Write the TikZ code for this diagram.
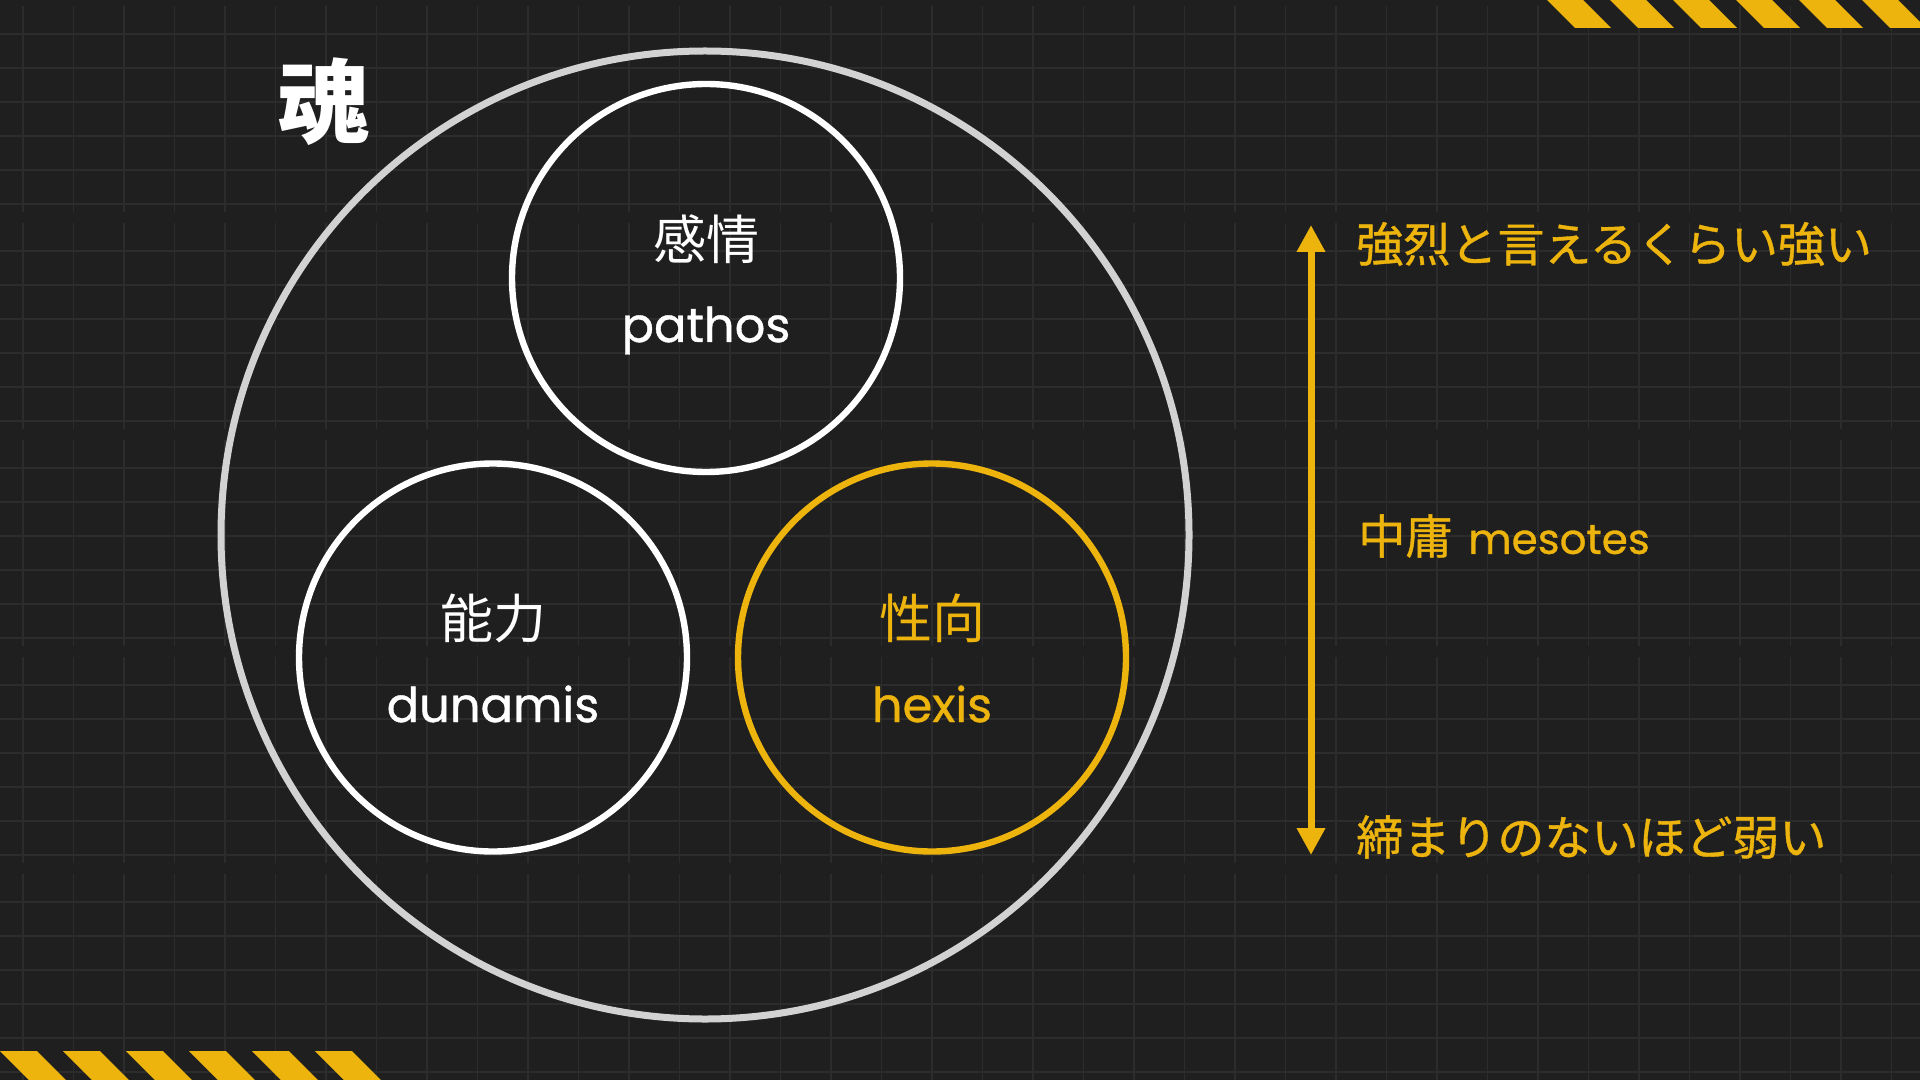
\documentclass[tikz,border=0pt]{standalone}
\usepackage{fontspec}
\setmainfont{Poppins}
\newfontfamily\lat{Poppins}[FakeBold=0.8]
\newfontfamily\jp{Noto Sans CJK JP}
\newfontfamily\jpm{Noto Sans CJK JP}[FakeBold=0.8]
\usetikzlibrary{arrows.meta}
\definecolor{bg}{HTML}{1F1F1F}
\definecolor{gridc}{HTML}{2C2C2C}
\definecolor{gold}{HTML}{EEB40E}
\definecolor{ringc}{HTML}{D2D2D2}
\tikzset{
  gridline/.style={draw=gridc, line width=0.8pt},
  stripe/.style={fill=gold},
  bigring/.style={circle, draw=ringc, line width=3.5pt, inner sep=0pt, minimum size=484pt},
  partring/.style={circle, draw=white, line width=3.2pt, inner sep=0pt, minimum size=194pt},
  jplabel/.style={inner sep=0pt, text=white, font=\jp\fontsize{26.5pt}{30pt}\selectfont},
  enlabel/.style={inner sep=0pt, anchor=base, text=white, font=\lat\fontsize{24pt}{28pt}\selectfont},
  rtext/.style={inner sep=0pt, anchor=west, text=gold, font=\jpm\fontsize{23.5pt}{28pt}\selectfont},
}
\begin{document}
\begin{tikzpicture}[x=0.5pt,y=-0.5pt]
\useasboundingbox (0,0) rectangle (1920,1080);
\clip (0,0) rectangle (1920,1080);
\fill[bg] (0,0) rectangle (1920,1080);
% background grid (tiled)
\foreach \r in {0,...,4}{
  \pgfmathsetmacro\yo{217*\r}
  \foreach \k in {1,...,6}{
    \draw[gridline] (0,{\yo+34*\k}) -- (1920,{\yo+34*\k});
  }
  \foreach \j in {0,...,37}{
    \draw[gridline] ({23+50.5*\j},{\yo+6}) -- ({23+50.5*\j},{\yo+212});
  }
}
% hazard stripes
\foreach \k in {0,...,5}{
  \fill[stripe] ({1547+63*\k},0) -- ({1583+63*\k},0) -- ({1611+63*\k},28) -- ({1575+63*\k},28) -- cycle;
  \fill[stripe] ({63*\k},1051) -- ({37+63*\k},1051) -- ({66+63*\k},1080) -- ({29+63*\k},1080) -- cycle;
}
% soul
\node[bigring] (soul) at (705,535) {};
\node[inner sep=0pt, text=white, font=\jp\bfseries\fontsize{46pt}{50pt}\selectfont] (soultitle) at (323,102) {魂};
% parts
\node[partring] (pathosc) at (706,278) {};
\node[partring] (dunamisc) at (493,657.5) {};
\node[partring, draw=gold] (hexisc) at (932,657.5) {};
\node[jplabel] (pathosj) at (706,239) {感情};
\node[enlabel] (pathose) at (706,342) {pathos};
\node[jplabel] (dunamisj) at (493,618) {能力};
\node[enlabel] (dunamise) at (493,722) {dunamis};
\node[jplabel, text=gold] (hexisj) at (932,618) {性向};
\node[enlabel, text=gold] (hexise) at (932,722) {hexis};
% scale arrow
\coordinate (atop) at (1311,225);
\coordinate (abot) at (1311,855);
\draw[draw=gold, line width=3.5pt, {Triangle[width=13.5pt,length=13.5pt]}-{Triangle[width=13.5pt,length=13.5pt]}] (atop) -- (abot);
\node[rtext] (strong) at (1356,244) {強烈と言えるくらい強い};
\node[rtext] (mean) at (1358,536) {中庸\hspace{8pt}{\lat\fontsize{21pt}{26pt}\selectfont mesotes}};
\node[rtext] (weak) at (1356,837) {締まりのないほど弱い};
\end{tikzpicture}
\end{document}
